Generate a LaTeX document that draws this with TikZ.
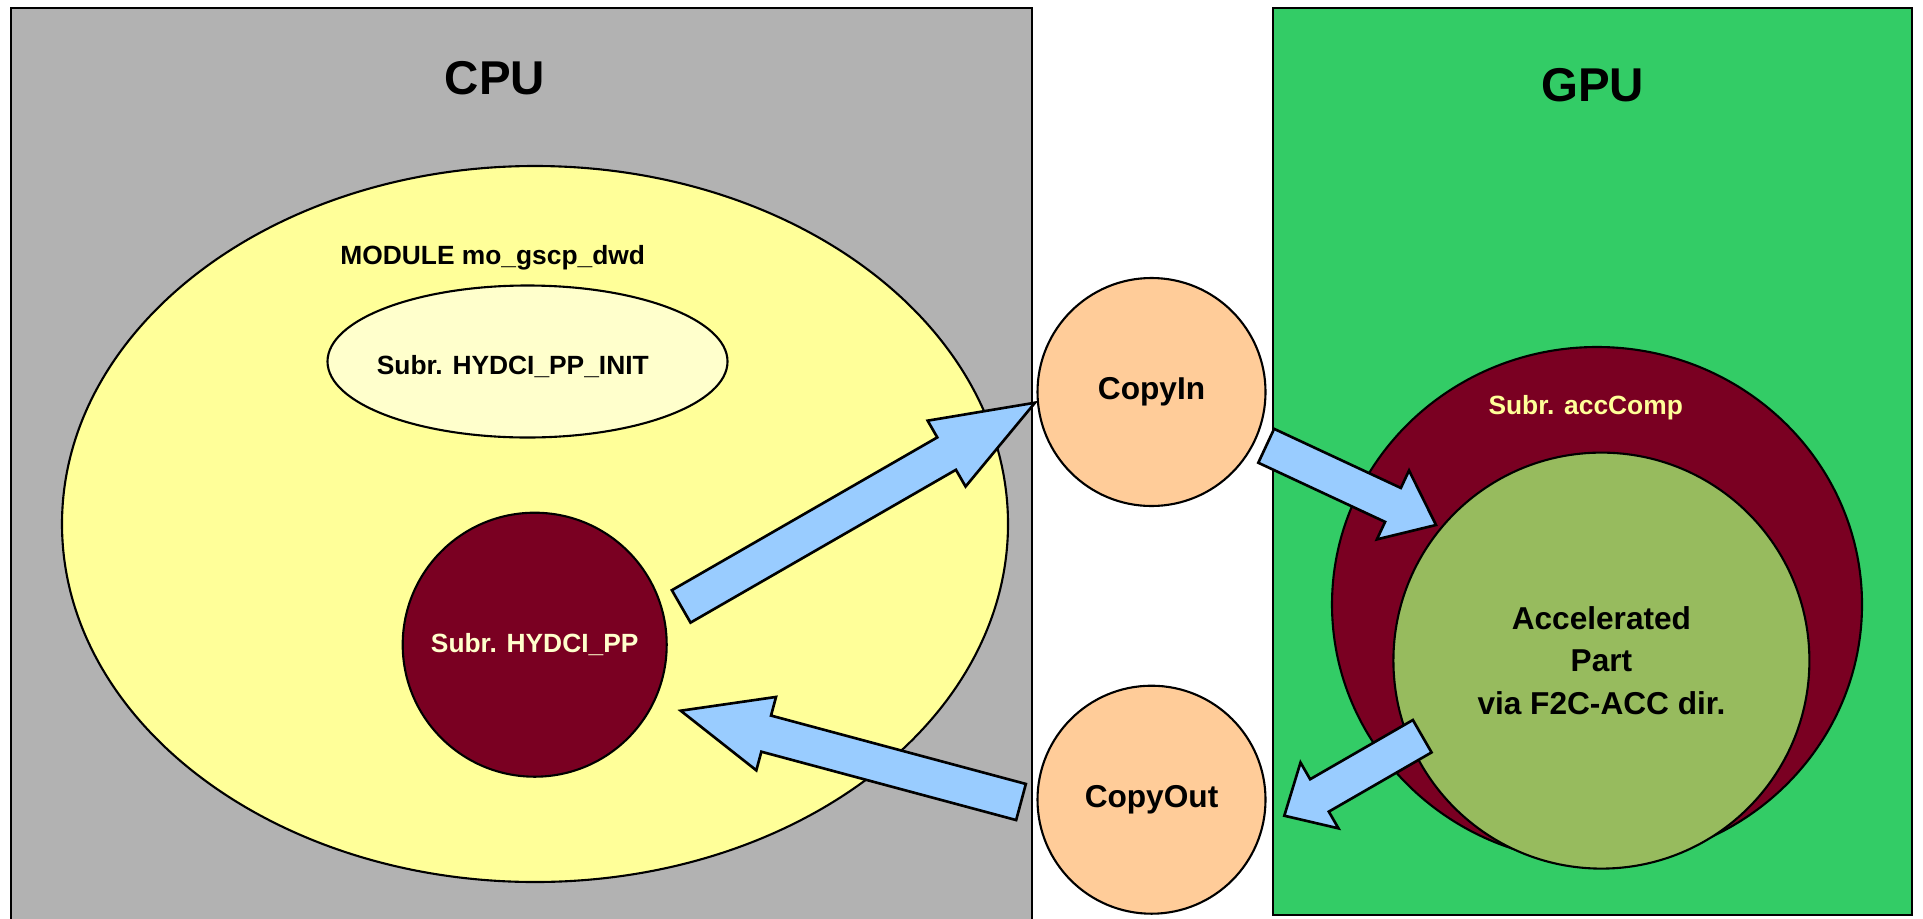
\documentclass[tikz,border=0pt]{standalone}
\usepackage{fontspec}
\usepackage{xcolor}
\setmainfont{Liberation Sans}
\usetikzlibrary{calc,shapes.geometric}

\definecolor{cpugray}{RGB}{178,178,178}
\definecolor{gpugreen}{RGB}{51,204,102}
\definecolor{modyellow}{RGB}{255,255,153}
\definecolor{inityellow}{RGB}{255,255,204}
\definecolor{subred}{RGB}{122,0,34}
\definecolor{subtext}{RGB}{255,255,204}
\definecolor{copyorange}{RGB}{255,204,153}
\definecolor{accgreen}{RGB}{151,187,94}
\definecolor{arrowblue}{RGB}{153,204,255}

% block arrow: tail, tip, head length
\newcommand{\blockarrow}[3]{%
  \coordinate (neck) at ($(#2)!#3!(#1)$);
  \draw [flow] ($(#1)!0.187cm!90:(#2)$) -- ($(neck)!0.187cm!90:(#2)$)
    -- ($(neck)!0.38cm!90:(#2)$) -- (#2) -- ($(neck)!0.38cm!-90:(#2)$)
    -- ($(neck)!0.187cm!-90:(#2)$) -- ($(#1)!0.187cm!-90:(#2)$) -- cycle;
}

\begin{document}
\begin{tikzpicture}[every text node part/.style={align=center},
  region/.style={draw=black,line width=0.6pt,anchor=north west},
  blob/.style={draw=black,line width=0.6pt,ellipse},
  disc/.style={draw=black,line width=0.6pt,circle},
  flow/.style={draw=black,line width=0.75pt,fill=arrowblue,line join=miter},
  headtext/.style={anchor=base,font=\fontsize{13.5}{16}\selectfont\bfseries},
  smalltext/.style={font=\fontsize{7.5}{9}\selectfont\bfseries},
  bigtext/.style={font=\fontsize{9}{12}\selectfont\bfseries}]
\tikzstyle{every node}+=[inner sep=0pt]
\useasboundingbox (0,0) rectangle (19.23,-9.18);
\node [region,fill=cpugray,minimum width=10.21cm,minimum height=9.4cm] (cpu) at (0.10,-0.07) {};
\node [region,fill=gpugreen,minimum width=6.39cm,minimum height=9.07cm] (gpu) at (12.72,-0.07) {};
\node [headtext] (cputitle) at (4.95,-0.95) {CPU};
\node [headtext] (gputitle) at (15.925,-1.017) {GPU};
\node [blob,fill=modyellow,minimum width=9.46cm,minimum height=7.16cm] (module) at (5.35,-5.24) {};
\node [smalltext,anchor=base] (modtitle) at (4.927,-2.643) {MODULE mo\_gscp\_dwd};
\node [blob,fill=inityellow,minimum width=4cm,minimum height=1.52cm] (init) at (5.275,-3.615) {};
\node [smalltext,anchor=base] (inittitle) at (5.128,-3.74) {Subr. HYDCI\_PP\_INIT};
\node [disc,fill=subred,smalltext,text=subtext,minimum size=2.64cm] (hydci) at (5.347,-6.447) {Subr. HYDCI\_PP};
\node [disc,fill=copyorange,bigtext,minimum size=2.28cm] (copyin) at (11.515,-3.92) {CopyIn};
\node [disc,fill=copyorange,bigtext,minimum size=2.28cm] (copyout) at (11.515,-7.997) {CopyOut};
\node [blob,fill=subred,minimum width=5.30cm,minimum height=5.15cm] (acccomp) at (15.97,-6.045) {};
\node [smalltext,anchor=base,text=modyellow] (acctitle) at (15.857,-4.14) {Subr. accComp};
\node [disc,fill=accgreen,bigtext,minimum size=4.16cm] (accel) at (16.014,-6.606) {Accelerated\\Part\\via F2C-ACC dir.};
\coordinate (inTail) at (6.812,-6.064);
\coordinate (inTip) at (10.35,-4.027);
\coordinate (backTail) at (10.21,-8.02);
\coordinate (backTip) at (6.807,-7.107);
\coordinate (devTail) at (12.662,-4.458);
\coordinate (devTip) at (14.36,-5.25);
\coordinate (hostTail) at (14.222,-7.362);
\coordinate (hostTip) at (12.843,-8.157);
\blockarrow{inTail}{inTip}{1.02cm}
\blockarrow{backTail}{backTip}{0.885cm}
\blockarrow{devTail}{devTip}{0.475cm}
\blockarrow{hostTail}{hostTip}{0.406cm}
\end{tikzpicture}
\end{document}
